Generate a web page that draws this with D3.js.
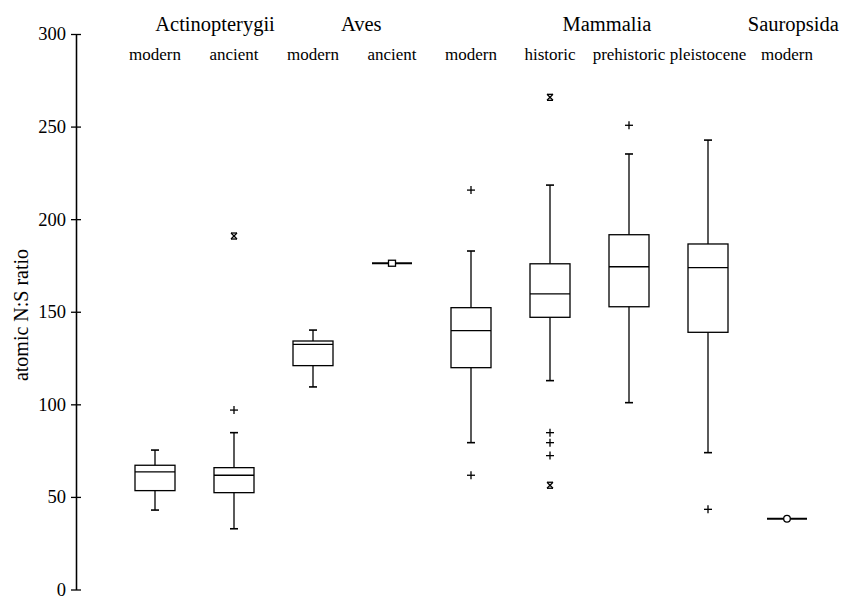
<!DOCTYPE html>
<html>
<head>
<meta charset="utf-8">
<script src="https://cdn.jsdelivr.net/npm/d3@7"></script>
<style>
  html, body { margin: 0; padding: 0; background: #fff; }
  svg { display: block; }
  text { font-family: "Liberation Serif", "Times New Roman", serif; fill: #000; }
</style>
</head>
<body>
<svg id="chart" width="856" height="596"></svg>
<script>
// Taxonomic classes and the sample period of each box
const classes = ["Actinopterygii", "Aves", "Mammalia", "Sauropsida"];
const periods = ["modern", "ancient", "modern", "ancient", "modern", "historic", "prehistoric", "pleistocene", "modern"];
const classOf = [0, 0, 1, 1, 2, 2, 2, 2, 3];

// Box statistics of the atomic N:S ratio (null where only one value was measured)
const whiskerLow  = [42.9, 32.8, 109.4, null, 79.3, 112.8, 100.9, 73.9, null];
const quartile1   = [53.4, 52.3, 120.9, null, 119.8, 147.0, 152.7, 138.9, null];
const medians     = [63.5, 61.7, 132.4, 176.2, 139.8, 159.7, 174.3, 173.8, 38.2];
const quartile3   = [67.1, 65.8, 134.2, null, 152.2, 175.9, 191.6, 186.6, null];
const whiskerHigh = [75.3, 84.7, 140.1, null, 182.8, 218.4, 235.2, 242.7, null];

// Outliers ("+") and far outliers ("x") per box
const outliers    = [[], [96.9], [], [], [215.7, 61.7], [84.7, 79.3, 72.3], [250.7], [43.3], []];
const farOutliers = [[], [190.9], [], [], [], [265.8, 56.3], [], [], []];

// Marker drawn on a single-value group
const singleMarker = [null, null, null, "square", null, null, null, null, "circle"];

const yTicks = [0, 50, 100, 150, 200, 250, 300];
const yLabel = "atomic N:S ratio";

// ---- layout ----
const svg = d3.select("#chart");
const axisX = 76;
const x = d3.scaleLinear().domain([0, 10]).range([axisX, axisX + 790]);
const y = d3.scaleLinear().domain([0, 300]).range([589.5, 34]);
const halfBox = 20, halfCap = 4, mark = 4;
const classLabelAt = [1.76, 3.61, 6.72, 9.08]; // class title centres in box units

svg.append("rect").attr("width", 856).attr("height", 596).attr("fill", "#fff");

// Y axis with ticks crossing the spine
const gAxis = svg.append("g").attr("transform", `translate(${axisX},0)`);
gAxis.call(d3.axisLeft(y).tickValues(yTicks).tickSizeInner(5).tickSizeOuter(0).tickPadding(5));
gAxis.append("g").call(d3.axisRight(y).tickValues(yTicks).tickSizeInner(5).tickSizeOuter(0).tickFormat(""));
gAxis.selectAll("path.domain").attr("stroke", "#000").attr("stroke-width", 1.3);
gAxis.selectAll(".tick line").attr("stroke", "#000").attr("stroke-width", 1.3);
gAxis.selectAll(".tick text")
  .style("font-family", '"Liberation Serif", "Times New Roman", serif')
  .style("font-size", "18.5px").attr("fill", "#000");

svg.append("text")
  .attr("transform", "translate(28,315) rotate(-90)")
  .attr("text-anchor", "middle")
  .style("font-size", "20px")
  .text(yLabel);

// Class titles and period labels
svg.selectAll("text.cls").data(classes).join("text")
  .attr("class", "cls")
  .attr("x", (d, i) => x(classLabelAt[i]))
  .attr("y", 31)
  .attr("text-anchor", "middle")
  .style("font-size", "20.5px")
  .text(d => d);

svg.selectAll("text.per").data(periods).join("text")
  .attr("class", "per")
  .attr("x", (d, i) => x(i + 1))
  .attr("y", 60)
  .attr("text-anchor", "middle")
  .style("font-size", "17px")
  .text(d => d);

// Boxes
function line(g, x1, y1, x2, y2, w) {
  g.append("line").attr("x1", x1).attr("y1", y1).attr("x2", x2).attr("y2", y2)
    .attr("stroke", "#000").attr("stroke-width", w || 1.3);
}

periods.forEach((p, i) => {
  const cx = x(i + 1);
  const g = svg.append("g");
  if (quartile1[i] === null) {
    // single value: thick median bar with a small marker
    line(g, cx - halfBox, y(medians[i]), cx + halfBox, y(medians[i]), 2);
    if (singleMarker[i] === "square") {
      g.append("rect").attr("x", cx - 3.5).attr("y", y(medians[i]) - 3)
        .attr("width", 7).attr("height", 6)
        .attr("fill", "#fff").attr("stroke", "#000").attr("stroke-width", 1.3);
    } else if (singleMarker[i] === "circle") {
      g.append("circle").attr("cx", cx).attr("cy", y(medians[i])).attr("r", 3.3)
        .attr("fill", "#fff").attr("stroke", "#000").attr("stroke-width", 1.3);
    }
    return;
  }
  // whiskers
  line(g, cx, y(quartile3[i]), cx, y(whiskerHigh[i]));
  line(g, cx, y(quartile1[i]), cx, y(whiskerLow[i]));
  line(g, cx - halfCap, y(whiskerHigh[i]), cx + halfCap, y(whiskerHigh[i]), 1.6);
  line(g, cx - halfCap, y(whiskerLow[i]), cx + halfCap, y(whiskerLow[i]), 1.6);
  // box and median
  g.append("rect")
    .attr("x", cx - halfBox).attr("y", y(quartile3[i]))
    .attr("width", 2 * halfBox).attr("height", y(quartile1[i]) - y(quartile3[i]))
    .attr("fill", "none").attr("stroke", "#000").attr("stroke-width", 1.3);
  line(g, cx - halfBox, y(medians[i]), cx + halfBox, y(medians[i]));

  // outliers
  outliers[i].forEach(v => {
    const py = y(v);
    line(g, cx - mark, py, cx + mark, py);
    line(g, cx, py - mark, cx, py + mark);
  });
  farOutliers[i].forEach(v => {
    const py = y(v), s = 3;
    line(g, cx - s, py - s, cx + s, py + s);
    line(g, cx - s, py + s, cx + s, py - s);
    line(g, cx - s, py - s, cx + s, py - s);
    line(g, cx - s, py + s, cx + s, py + s);
  });
});
</script>
</body>
</html>
